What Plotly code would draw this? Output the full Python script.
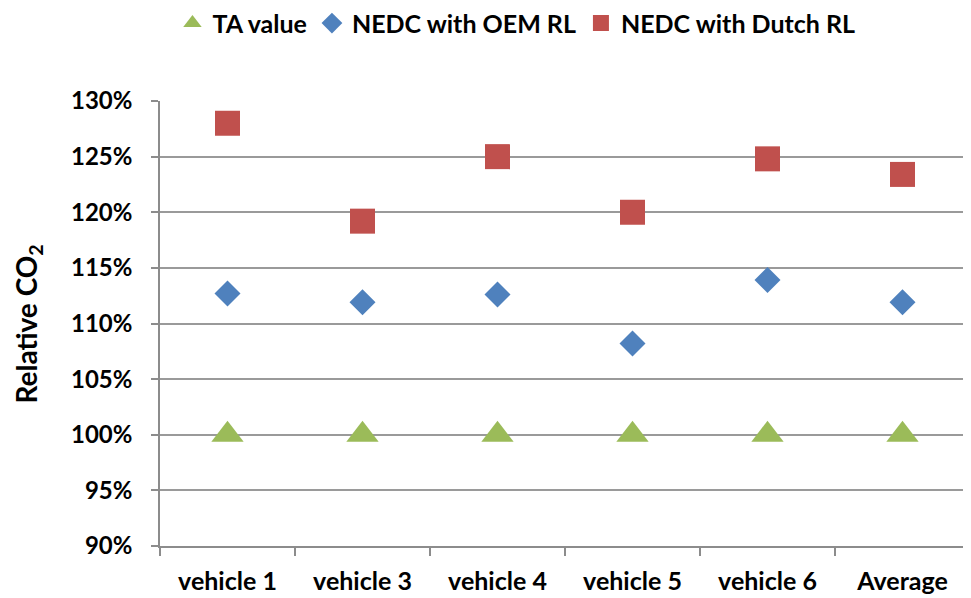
import plotly.graph_objects as go

categories = ["vehicle 1", "vehicle 3", "vehicle 4", "vehicle 5", "vehicle 6", "Average"]
ta_value = [1.00, 1.00, 1.00, 1.00, 1.00, 1.00]
nedc_oem = [1.127, 1.119, 1.126, 1.082, 1.139, 1.119]
nedc_dutch = [1.280, 1.192, 1.250, 1.200, 1.248, 1.234]

y_ticks = [0.90, 0.95, 1.00, 1.05, 1.10, 1.15, 1.20, 1.25, 1.30]

FONT = "Lato"

fig = go.Figure()
fig.add_trace(go.Scatter(x=categories, y=ta_value, mode="markers", name="TA value",
                         marker=dict(symbol="triangle-up", size=28, color="#9BBB59")))
fig.add_trace(go.Scatter(x=categories, y=nedc_oem, mode="markers", name="NEDC with OEM RL",
                         marker=dict(symbol="diamond", size=20, color="#4F81BD")))
fig.add_trace(go.Scatter(x=categories, y=nedc_dutch, mode="markers", name="NEDC with Dutch RL",
                         marker=dict(symbol="square", size=25, color="#C0504D")))

# page body adds an 8px offset; figure sized to compensate
fig.update_layout(
    width=963, height=590,
    margin=dict(l=152, r=1, t=93, b=52, autoexpand=False),
    paper_bgcolor="white", plot_bgcolor="white",
    font=dict(family=FONT, size=24, color="black"),
    showlegend=True,
    legend=dict(orientation="h", xref="container", yref="container",
                x=0.528, xanchor="center", y=0.974, yanchor="middle",
                font=dict(family=FONT, size=25, color="black", weight="bold"),
                itemsizing="trace", itemwidth=30, tracegroupgap=0),
    xaxis=dict(type="category", range=[-0.5, 5.5], showgrid=False, automargin=False,
               showline=True, linecolor="#8C8C8C", linewidth=1.5,
               ticks="outside", tickson="boundaries", ticklen=8, tickcolor="#8C8C8C", tickwidth=1.5,
               ticklabelstandoff=12,
               tickfont=dict(family=FONT, size=25, color="black", weight="bold")),
    yaxis=dict(range=[0.9, 1.3], tickvals=y_ticks, tickformat=".0%", automargin=False,
               showgrid=True, gridcolor="#9A9A9A", gridwidth=1.5,
               showline=True, linecolor="#8C8C8C", linewidth=1.5,
               ticks="outside", ticklen=7, tickcolor="#8C8C8C", tickwidth=1.5,
               ticklabelstandoff=14,
               zeroline=False,
               tickfont=dict(family=FONT, size=24, color="black", weight="bold")),
    annotations=[dict(text="Relative CO<sub>2</sub>", textangle=-90, xref="paper", yref="paper",
                      x=-0.163, y=0.5, xanchor="center", yanchor="middle", showarrow=False,
                      font=dict(family=FONT, size=28, color="black", weight="bold"))],
)

fig.write_html("out.html")
